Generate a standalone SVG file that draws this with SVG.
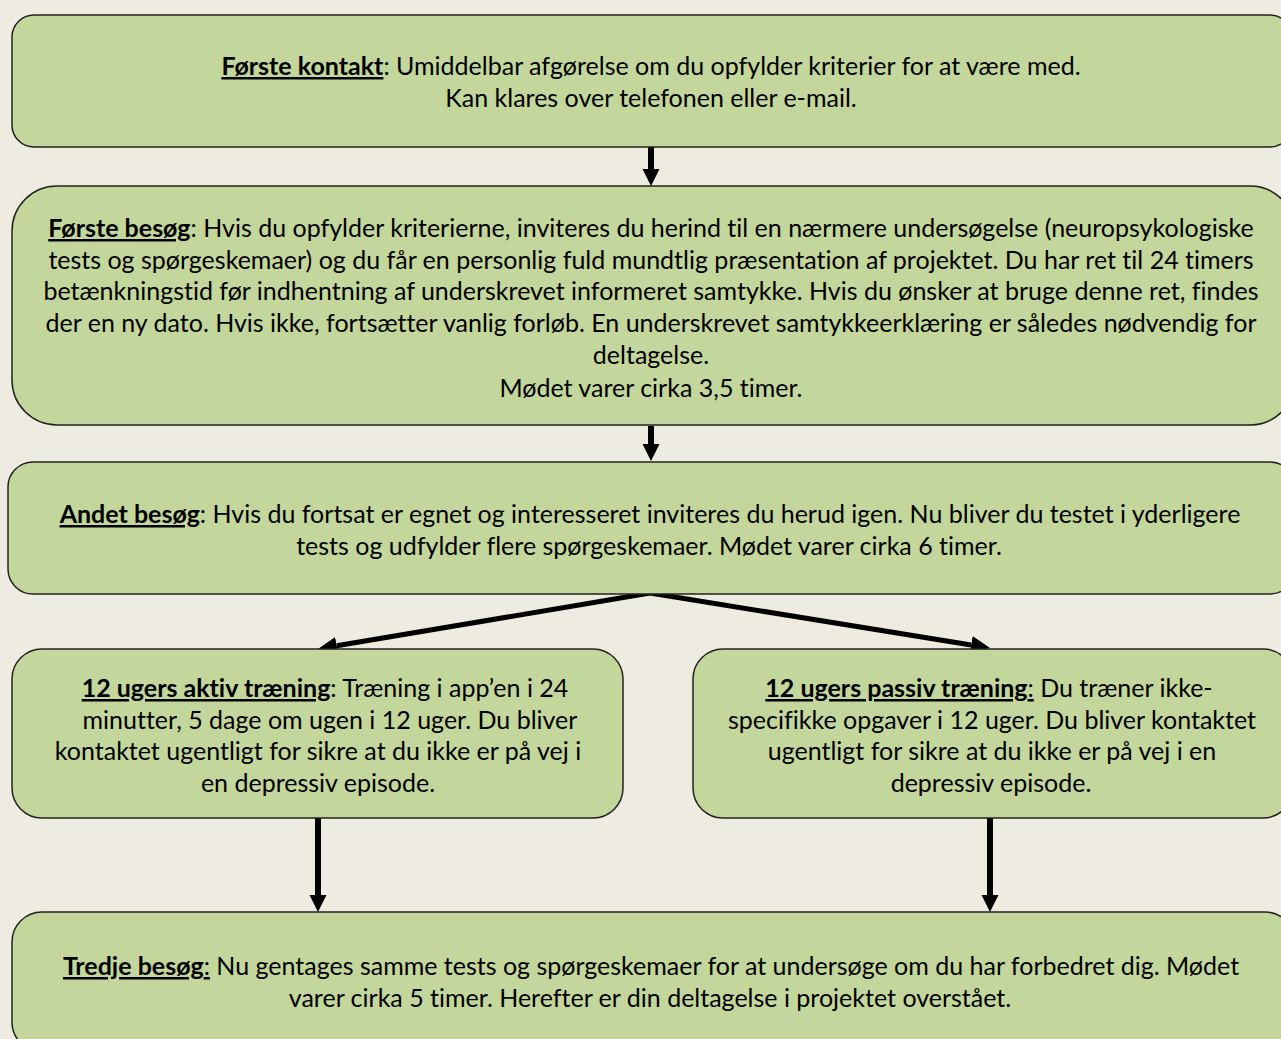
<svg xmlns="http://www.w3.org/2000/svg" width="1281" height="1039" viewBox="0 0 1281 1039">
<style>
.bg{fill:#EEECE1}
.box{fill:#C3D69B;stroke:#222;stroke-width:1.5}
.t{font-family:Lato,"Open Sans","DejaVu Sans",sans-serif;font-size:25px;fill:#000;text-anchor:middle;font-variant-ligatures:none;font-feature-settings:"liga" 0}
.b{font-weight:bold;text-decoration:underline}
.u{text-decoration:underline}
.c{stroke:#000;fill:none}
</style>
<defs>
<marker id="ah" markerUnits="userSpaceOnUse" markerWidth="20" markerHeight="20" viewBox="0 -10 20 20" refX="0" refY="0" orient="auto">
<path d="M0,-8.5 L17,0 L0,8.5 z" fill="#000"/>
</marker>
<marker id="ahd" markerUnits="userSpaceOnUse" markerWidth="22" markerHeight="22" viewBox="0 -11 22 22" refX="0" refY="0" orient="auto">
<path d="M0,-9 L19,0 L0,9 z" fill="#000"/>
</marker>
</defs>
<rect class="bg" x="0" y="0" width="1281" height="1039"/>
<g id="connectors">
<line class="c" x1="651" y1="147" x2="651" y2="169" stroke-width="6" marker-end="url(#ah)"/>
<line class="c" x1="651" y1="426" x2="651" y2="444" stroke-width="6" marker-end="url(#ah)"/>
<polyline class="c" points="650,593 336.7,645.8" stroke-width="5" marker-end="url(#ahd)"/>
<polyline class="c" points="650,593 971.2,645" stroke-width="5" marker-end="url(#ahd)"/>
<line class="c" x1="318" y1="818" x2="318" y2="895" stroke-width="6" marker-end="url(#ah)"/>
<line class="c" x1="990" y1="818" x2="990" y2="895" stroke-width="6" marker-end="url(#ah)"/>
</g>
<g id="forste-kontakt">
<rect class="box" x="12" y="15" width="1280" height="132" rx="22"/>
<text class="t" x="651" y="75"><tspan class="b">Første kontakt</tspan>: Umiddelbar afgørelse om du opfylder kriterier for at være med.</text>
<text class="t" x="651" y="107">Kan klares over telefonen eller e-mail.</text>
</g>
<g id="forste-besog">
<rect class="box" x="12" y="186" width="1283" height="239" rx="45"/>
<text class="t" x="651" y="237"><tspan class="b">Første besøg</tspan>: Hvis du opfylder kriterierne, inviteres du herind til en nærmere undersøgelse (neuropsykologiske</text>
<text class="t" x="651" y="269">tests og spørgeskemaer) og du får en personlig fuld mundtlig præsentation af projektet. Du har ret til 24 timers</text>
<text class="t" x="651" y="300">betænkningstid før indhentning af underskrevet informeret samtykke. Hvis du ønsker at bruge denne ret, findes</text>
<text class="t" x="651" y="332">der en ny dato. Hvis ikke, fortsætter vanlig forløb. En underskrevet samtykkeerklæring er således nødvendig for</text>
<text class="t" x="651" y="364">deltagelse.</text>
<text class="t" x="651" y="397">Mødet varer cirka 3,5 timer.</text>
</g>
<g id="andet-besog">
<rect class="box" x="8" y="462" width="1287" height="132" rx="25"/>
<text class="t" x="650" y="523"><tspan class="b">Andet besøg</tspan>: Hvis du fortsat er egnet og interesseret inviteres du herud igen. Nu bliver du testet i yderligere</text>
<text class="t" x="649" y="555">tests og udfylder flere spørgeskemaer. Mødet varer cirka 6 timer.</text>
</g>
<g id="aktiv-traening">
<rect class="box" x="12" y="649" width="611" height="169" rx="30"/>
<text class="t" x="325" y="697"><tspan class="b">12 ugers aktiv træning</tspan>: Træning i app’en i 24</text>
<text class="t" x="330" y="729">minutter, 5 dage om ugen i 12 uger. Du bliver</text>
<text class="t" x="318" y="760">kontaktet ugentligt for sikre at du ikke er på vej i</text>
<text class="t" x="318" y="792">en depressiv episode.</text>
</g>
<g id="passiv-traening">
<rect class="box" x="693" y="649" width="600" height="169" rx="30"/>
<text class="t" x="989" y="697"><tspan class="b">12 ugers passiv træning</tspan><tspan class="u">:</tspan> Du træner ikke-</text>
<text class="t" x="992" y="729">specifikke opgaver i 12 uger. Du bliver kontaktet</text>
<text class="t" x="992" y="760">ugentligt for sikre at du ikke er på vej i en</text>
<text class="t" x="991" y="792">depressiv episode.</text>
</g>
<g id="tredje-besog">
<rect class="box" x="12" y="912" width="1283" height="140" rx="30"/>
<text class="t" x="651" y="975"><tspan class="b">Tredje besøg</tspan><tspan class="u">:</tspan> Nu gentages samme tests og spørgeskemaer for at undersøge om du har forbedret dig. Mødet</text>
<text class="t" x="650" y="1007">varer cirka 5 timer. Herefter er din deltagelse i projektet overstået.</text>
</g>
</svg>
